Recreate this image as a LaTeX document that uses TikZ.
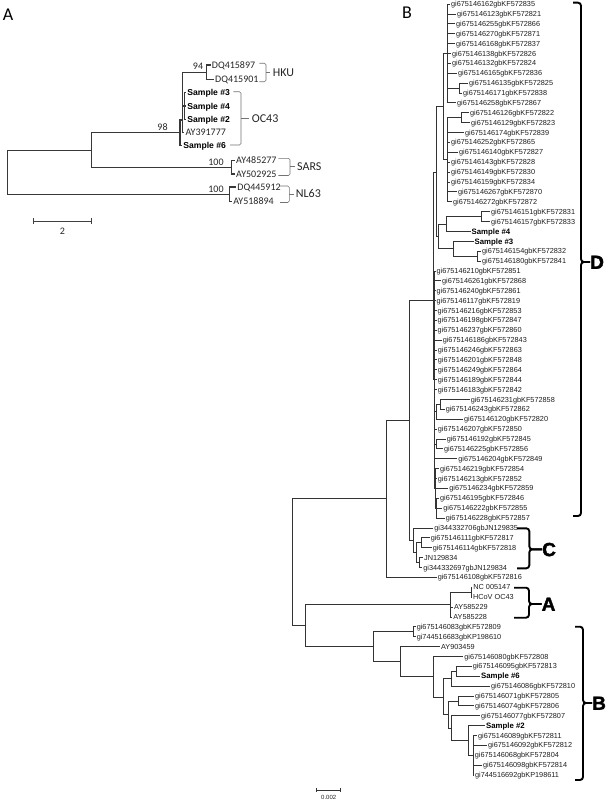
\documentclass[tikz,border=0pt]{standalone}
\usepackage{fontspec}
\newfontfamily\arialf{Liberation Sans}
\newfontfamily\carlf{Carlito}
\newfontfamily\blackf[FakeBold=2]{Liberation Sans}
\newcommand\Yv[1]{4+(#1-1)*9.885}
\newcommand\tipL[4]{\coordinate (#1) at (#3,{\Yv{#2}}); \node[blab] (#1t) at (#1) {#4};}
\newcommand\tipS[4]{\coordinate (#1) at (#3,{\Yv{#2}}); \node[bsam] (#1t) at (#1) {#4};}
\newcommand\inode[3]{\coordinate (#1) at (#2,{\Yv{#3}});}
\newcommand\kids[3][br]{\foreach \ch in {#3} {\draw[#1] (#2) |- (\ch);}}
\begin{document}
\begin{tikzpicture}[x=1pt,y=-1pt,
  br/.style={line width=0.75pt,draw=black!80},
  abr/.style={line width=1.05pt,draw=black!78},
  abrk/.style={line width=0.6pt,draw=black!55,rounded corners=1.5pt},
  bbrk/.style={line width=1.9pt,draw=black,rounded corners=3pt},
  blab/.style={anchor=west,inner xsep=0.9pt,inner ysep=0pt,text height=5.2pt,text depth=0pt,font=\arialf\fontsize{7.3}{8}\selectfont,text=black!88},
  bsam/.style={blab,font=\arialf\bfseries\fontsize{7.8}{9}\selectfont,text height=5.6pt,text=black},
  alab/.style={anchor=west,inner xsep=1.2pt,inner ysep=0pt,text height=6.3pt,text depth=0pt,font=\carlf\fontsize{10}{12}\selectfont,text=black!85},
  asam/.style={alab,font=\arialf\bfseries\fontsize{8.6}{10}\selectfont,text height=6.2pt,text=black},
  sup/.style={inner sep=0pt,anchor=base,font=\carlf\fontsize{10}{12}\selectfont,text=black!85},
  glab/.style={anchor=west,inner sep=0pt,text height=7.7pt,text depth=0pt,font=\carlf\fontsize{12}{14}\selectfont,text=black!85},
  plab/.style={inner sep=0pt,font=\carlf\fontsize{18}{20}\selectfont},
  blet/.style={anchor=west,inner sep=0pt,text height=13.6pt,text depth=0pt,font=\blackf\bfseries\fontsize{19}{20}\selectfont}]
\useasboundingbox (0,0) rectangle (609,800);
\fill[white] (0,0) rectangle (609,800);

% ---------------- Panel A ----------------
\node[plab] (pA) at (8,14.5) {A};
\coordinate (aDQ1) at (210.5,65);   \node[alab] (aDQ1t) at (aDQ1) {DQ415897};
\coordinate (aDQ2) at (213.8,79.3); \node[alab] (aDQ2t) at (aDQ2) {DQ415901};
\coordinate (aS3) at (186,92.7);    \node[asam] (aS3t) at (aS3) {Sample \#3};
\coordinate (aS4) at (186,106);     \node[asam] (aS4t) at (aS4) {Sample \#4};
\coordinate (aS2) at (186,119.5);   \node[asam] (aS2t) at (aS2) {Sample \#2};
\coordinate (aAY) at (184.2,132.7); \node[alab] (aAYt) at (aAY) {AY391777};
\coordinate (aS6) at (182,145.3);   \node[asam] (aS6t) at (aS6) {Sample \#6};
\coordinate (aSA1) at (234.8,160.5); \node[alab] (aSA1t) at (aSA1) {AY485277};
\coordinate (aSA2) at (234.8,174);   \node[alab] (aSA2t) at (aSA2) {AY502925};
\coordinate (aNL1) at (236,187);     \node[alab] (aNL1t) at (aNL1) {DQ445912};
\coordinate (aNL2) at (232,201.5);   \node[alab] (aNL2t) at (aNL2) {AY518894};

\coordinate (aHKU) at (206.7,72.2);
\coordinate (aSmp) at (184.3,106);
\coordinate (aUp) at (182.7,120);
\coordinate (a98) at (180,132.7);
\coordinate (aSARS) at (231.7,167.3);
\coordinate (aN1) at (91.7,150.7);
\coordinate (aNL) at (229.3,194.2);
\coordinate (aR) at (7.3,172.5);

\kids[abr]{aHKU}{aDQ1,aDQ2}
\kids[abr]{aSmp}{aS3,aS4,aS2}
\kids[abr]{aUp}{aHKU,aSmp,aAY}
\kids[abr]{a98}{aUp,aS6}
\kids[abr]{aSARS}{aSA1,aSA2}
\kids[abr]{aN1}{a98,aSARS}
\kids[abr]{aNL}{aNL1,aNL2}
\kids[abr]{aR}{aN1,aNL}

\node[sup] (s94) at (198,69.5) {94};
\node[sup] (s98) at (162.5,130.5) {98};
\node[sup] (s100a) at (216,165) {100};
\node[sup] (s100b) at (216,192) {100};

\node[glab] (gHKU) at (272.7,72.3) {HKU};
\node[glab] (gOC) at (251.7,118.3) {OC43};
\node[glab] (gSARS) at (297,166.7) {SARS};
\node[glab] (gNL) at (295.7,194) {NL63};
\draw[abrk] (259.3,63.3) -- (266,63.3) -- (266,81.7) -- (259.3,81.7);
\draw[abrk] (266,72.3) -- (270,72.3);
\draw[abrk] (233.3,91.7) -- (241,91.7) -- (241,145) -- (230,145);
\draw[abrk] (241,118.3) -- (248.5,118.3);
\draw[abrk] (278.3,158.3) -- (290,158.3) -- (290,175.5) -- (278.3,175.5);
\draw[abrk] (290,166.7) -- (295,166.7);
\draw[abrk] (280,186) -- (289.3,186) -- (289.3,202.5) -- (280,202.5);
\draw[abrk] (289.3,194) -- (293.5,194);

\coordinate (sa1) at (33.5,221); \coordinate (sa2) at (91.5,221);
\draw[line width=0.8pt,black!75] (sa1) -- (sa2);
\draw[line width=0.8pt,black!75] (33.5,218) -- (33.5,224) (91.5,218) -- (91.5,224);
\node[sup,anchor=center] (s2) at (62.5,231) {2};

% ---------------- Panel B ----------------
\node[plab] (pB) at (407,12.5) {B};

\tipL{L1}{1}{450}{gi675146162gbKF572835}
\tipL{L2}{2}{456}{gi675146123gbKF572821}
\tipL{L3}{3}{455}{gi675146255gbKF572866}
\tipL{L4}{4}{455}{gi675146270gbKF572871}
\tipL{L5}{5}{455}{gi675146168gbKF572837}
\tipL{L6}{6}{451}{gi675146138gbKF572826}
\tipL{L7}{7}{451}{gi675146132gbKF572824}
\tipL{L8}{8}{457}{gi675146165gbKF572836}
\tipL{L9}{9}{468}{gi675146135gbKF572825}
\tipL{L10}{10}{462}{gi675146171gbKF572838}
\tipL{L11}{11}{456}{gi675146258gbKF572867}
\tipL{L12}{12}{469}{gi675146126gbKF572822}
\tipL{L13}{13}{470}{gi675146129gbKF572823}
\tipL{L14}{14}{464}{gi675146174gbKF572839}
\tipL{L15}{15}{450}{gi675146252gbKF572865}
\tipL{L16}{16}{458}{gi675146140gbKF572827}
\tipL{L17}{17}{450}{gi675146143gbKF572828}
\tipL{L18}{18}{450}{gi675146149gbKF572830}
\tipL{L19}{19}{450}{gi675146159gbKF572834}
\tipL{L20}{20}{457}{gi675146267gbKF572870}
\tipL{L21}{21}{452}{gi675146272gbKF572872}
\tipL{L22}{22}{490}{gi675146151gbKF572831}
\tipL{L23}{23}{490}{gi675146157gbKF572833}
\tipS{L24}{24}{470.5}{Sample \#4}
\tipS{L25}{25}{473.5}{Sample \#3}
\tipL{L26}{26}{481}{gi675146154gbKF572832}
\tipL{L27}{27}{481}{gi675146180gbKF572841}
\tipL{L28}{28}{435.5}{gi675146210gbKF572851}
\tipL{L29}{29}{441}{gi675146261gbKF572868}
\tipL{L30}{30}{435.5}{gi675146240gbKF572861}
\tipL{L31}{31}{435.5}{gi675146117gbKF572819}
\tipL{L32}{32}{436.5}{gi675146216gbKF572853}
\tipL{L33}{33}{436.5}{gi675146198gbKF572847}
\tipL{L34}{34}{436.5}{gi675146237gbKF572860}
\tipL{L35}{35}{441.7}{gi675146186gbKF572843}
\tipL{L36}{36}{436.8}{gi675146246gbKF572863}
\tipL{L37}{37}{436.8}{gi675146201gbKF572848}
\tipL{L38}{38}{436.8}{gi675146249gbKF572864}
\tipL{L39}{39}{436.8}{gi675146189gbKF572844}
\tipL{L40}{40}{436.8}{gi675146183gbKF572842}
\tipL{L41}{41}{469.7}{gi675146231gbKF572858}
\tipL{L42}{42}{444.7}{gi675146243gbKF572862}
\tipL{L43}{43}{463}{gi675146120gbKF572820}
\tipL{L44}{44}{436.8}{gi675146207gbKF572850}
\tipL{L45}{45}{445.7}{gi675146192gbKF572845}
\tipL{L46}{46}{443}{gi675146225gbKF572856}
\tipL{L47}{47}{457.3}{gi675146204gbKF572849}
\tipL{L48}{48}{439}{gi675146219gbKF572854}
\tipL{L49}{49}{436.8}{gi675146213gbKF572852}
\tipL{L50}{50}{448.3}{gi675146234gbKF572859}
\tipL{L51}{51}{439}{gi675146195gbKF572846}
\tipL{L52}{52}{442.3}{gi675146222gbKF572855}
\tipL{L53}{53}{444.7}{gi675146228gbKF572857}
\tipL{L54}{54}{433.3}{gi344332706gbJN129835}
\tipL{L55}{55}{429.7}{gi675146111gbKF572817}
\tipL{L56}{56}{431.7}{gi675146114gbKF572818}
\tipL{L57}{57}{423}{JN129834}
\tipL{L58}{58}{422.3}{gi344332697gbJN129834}
\tipL{L59}{59}{436.7}{gi675146108gbKF572816}
\tipL{L60}{60}{472.3}{NC 005147}
\tipL{L61}{61}{472}{HCoV OC43}
\tipL{L62}{62}{453}{AY585229}
\tipL{L63}{63}{452.3}{AY585228}
\tipL{L64}{64}{415.7}{gi675146083gbKF572809}
\tipL{L65}{65}{415.7}{gi744516683gbKP198610}
\tipL{L66}{66}{440}{AY903459}
\tipL{L67}{67}{463.3}{gi675146080gbKF572808}
\tipL{L68}{68}{471.7}{gi675146095gbKF572813}
\tipS{L69}{69}{480}{Sample \#6}
\tipL{L70}{70}{490}{gi675146086gbKF572810}
\tipL{L71}{71}{474}{gi675146071gbKF572805}
\tipL{L72}{72}{474}{gi675146074gbKF572806}
\tipL{L73}{73}{480}{gi675146077gbKF572807}
\tipS{L74}{74}{485}{Sample \#2}
\tipL{L75}{75}{477}{gi675146089gbKF572811}
\tipL{L76}{76}{487}{gi675146092gbKF572812}
\tipL{L77}{77}{473.8}{gi675146068gbKF572804}
\tipL{L78}{78}{482}{gi675146098gbKF572814}
\tipL{L79}{79}{474}{gi744516692gbKP198611}

% internal nodes
\inode{n910}{459}{9.5}
\inode{K1}{447}{6}
\inode{n1213}{461}{12.5}
\inode{K2}{447}{16.75}
\inode{J}{443}{11.4}
\inode{n2223}{481}{22.5}
\inode{S1}{446.7}{23.25}
\inode{n2627}{477}{26.5}
\inode{S2}{453.3}{25.75}
\inode{S}{438.3}{24.5}
\inode{U}{436}{18}
\inode{G1a}{440}{41.5}
\inode{G1}{436.7}{42.25}
\inode{G2}{436}{45.5}
\inode{G4}{436.7}{52}
\inode{G3}{435.5}{50}
\inode{Cb}{434.5}{39}
\inode{D}{433}{31}
\inode{C3}{421.7}{55.5}
\inode{C4}{419}{57.5}
\inode{C2}{416.7}{56.5}
\inode{Cn}{413.3}{55.25}
\inode{DC}{409.3}{43.1}
\inode{N1}{386.7}{51.05}
\inode{A1}{471}{60.5}
\inode{Aa}{450.5}{61.75}
\inode{B1}{413.3}{64.5}
\inode{n6869}{456.7}{68.5}
\inode{B5}{451.7}{69.25}
\inode{n7172}{458.3}{71.5}
\inode{B9}{473.3}{77}
\inode{B8}{468.3}{75.5}
\inode{B7}{451.7}{74.25}
\inode{B6}{448.3}{72.9}
\inode{B4}{443.3}{71.1}
\inode{B3}{433.3}{69.05}
\inode{B2}{400}{67.5}
\inode{Bc}{373.3}{66}
\inode{AB}{305}{63.9}
\inode{R}{292.7}{57.5}

% edges
\kids{n910}{L9,L10}
\kids{K1}{L1,L2,L3,L4,L5,L6,L7,L8,n910,L11}
\kids{n1213}{L12,L13}
\kids{K2}{n1213,L14,L15,L16,L17,L18,L19,L20,L21}
\kids{J}{K1,K2}
\kids{n2223}{L22,L23}
\kids{S1}{n2223,L24}
\kids{n2627}{L26,L27}
\kids{S2}{L25,n2627}
\kids{S}{S1,S2}
\kids{U}{J,S}
\kids{G1a}{L41,L42}
\kids{G1}{G1a,L43}
\kids{G2}{L45,L46}
\kids{G4}{L51,L52,L53}
\kids{G3}{L48,L49,L50,G4}
\kids{Cb}{L28,L29,L30,L31,L32,L33,L34,L35,L36,L37,L38,L39,L40,G1,L44,G2,L47,G3}
\kids{D}{U,Cb}
\kids{C3}{L55,L56}
\kids{C4}{L57,L58}
\kids{C2}{C3,C4}
\kids{Cn}{L54,C2}
\kids{DC}{D,Cn}
\kids{N1}{DC,L59}
\kids{A1}{L60,L61}
\kids{Aa}{A1,L62,L63}
\kids{B1}{L64,L65}
\kids{n6869}{L68,L69}
\kids{B5}{n6869,L70}
\kids{n7172}{L71,L72}
\kids{B9}{L75,L76,L77,L78,L79}
\kids{B8}{L74,B9}
\kids{B7}{L73,B8}
\kids{B6}{n7172,B7}
\kids{B4}{B5,B6}
\kids{B3}{L67,B4}
\kids{B2}{L66,B3}
\kids{Bc}{B1,B2}
\kids{AB}{Aa,Bc}
\kids{R}{N1,AB}

% clade braces
\node[blet] (bD) at (590,262) {D};
\node[blet] (bC) at (542,549.3) {C};
\node[blet] (bA) at (541.5,604) {A};
\node[blet] (bB) at (592,703) {B};
\draw[bbrk] (573,2.7) -- (581,2.7) -- (581,262) -- (bD.west);
\draw[bbrk] (573,516) -- (581,516) -- (581,262) -- (bD.west);
\draw[bbrk] (517,528.3) -- (529.3,528.3) -- (529.3,549.3) -- (bC.west);
\draw[bbrk] (517,568.3) -- (529.3,568.3) -- (529.3,549.3) -- (bC.west);
\draw[bbrk] (514,587.7) -- (529,587.7) -- (529,604) -- (bA.west);
\draw[bbrk] (514,617.7) -- (529,617.7) -- (529,604) -- (bA.west);
\draw[bbrk] (575,626.7) -- (583,626.7) -- (583,703) -- (bB.west);
\draw[bbrk] (575,780) -- (583,780) -- (583,703) -- (bB.west);

% scale bar B
\coordinate (sb1) at (316.7,790); \coordinate (sb2) at (340.7,790);
\draw[line width=0.7pt,black!80] (sb1) -- (sb2);
\draw[line width=0.7pt,black!80] (316.7,787.8) -- (316.7,792.2) (340.7,787.8) -- (340.7,792.2);
\node[inner sep=0pt,font=\arialf\fontsize{6}{7}\selectfont,text=black!85] (s002) at (328.7,797.3) {0.002};
\end{tikzpicture}
\end{document}
